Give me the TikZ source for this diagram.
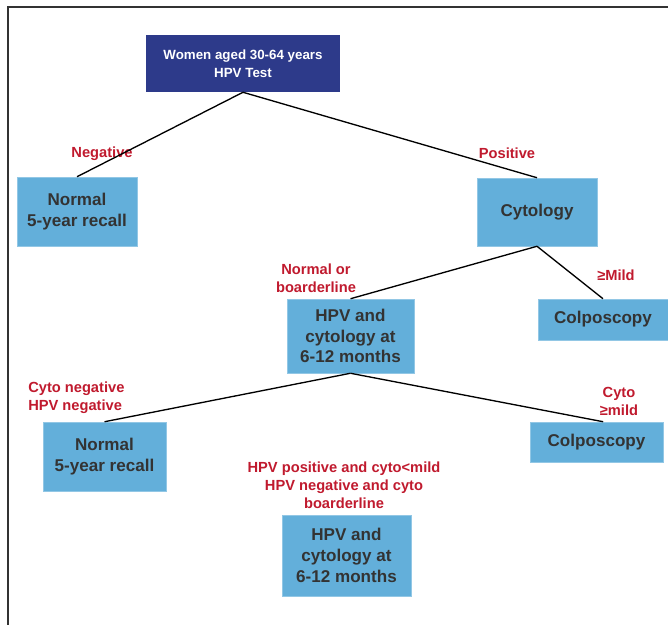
\documentclass[tikz,border=0pt]{standalone}
\usepackage{fontspec}
\setmainfont{Liberation Sans}
\definecolor{topblue}{HTML}{2D3A8A}
\definecolor{boxblue}{HTML}{63AFDA}
\definecolor{labred}{HTML}{C01A2E}
\begin{document}
\begin{tikzpicture}[x=0.75pt,y=-0.75pt,
    topbox/.style={fill=topblue,text=white,inner sep=0pt,align=center,
      font=\fontsize{10}{13.5}\selectfont\bfseries},
    bluebox/.style={fill=boxblue,draw=boxblue!70!white,inner sep=0pt,align=center,
      text=black!80,font=\fontsize{12.8}{15.5}\selectfont\bfseries},
    lab/.style={text=labred,inner sep=0pt,align=center,
      font=\fontsize{11}{13.5}\selectfont\bfseries},
    link/.style={line width=1pt,black}]
      \useasboundingbox (0,0) rectangle (668,625) ;
      \draw[line width=1.1pt,black!80] (668,7) -- (8,7) -- (8,625) ;
      % boxes
      \node[topbox,minimum width=145.5pt,minimum height=42.75pt] (women) at (243,63.5) {Women aged 30-64 years\\HPV Test} ;
      \node[bluebox,minimum width=90pt,minimum height=51.75pt] (recallA) at (77,211.5) {Normal\\5-year recall} ;
      \node[bluebox,minimum width=90pt,minimum height=51pt] (cyto) at (537,212) {Cytology} ;
      \node[bluebox,minimum width=97.5pt,minimum height=30.75pt] (colpoA) at (603,319.5) {Colposcopy} ;
      \node[bluebox,minimum width=95.25pt,minimum height=55.5pt] (hpvA) at (350.5,336) {HPV and\\cytology at\\6-12 months} ;
      \node[bluebox,minimum width=92.25pt,minimum height=51.75pt] (recallB) at (104.5,456.5) {Normal\\5-year recall} ;
      \node[bluebox,minimum width=99.75pt,minimum height=30pt] (colpoB) at (596.5,442) {Colposcopy} ;
      \node[bluebox,minimum width=96.75pt,minimum height=60.75pt] (hpvB) at (346.5,555.5) {HPV and\\cytology at\\6-12 months} ;
      % labels
      \node[lab] (neg) at (102,154) {Negative} ;
      \node[lab] (pos) at (507,153) {Positive} ;
      \node[lab] (normbord) at (316,278) {Normal or\\boarderline} ;
      \node[lab] (mildA) at (616,275) {≥Mild} ;
      \node[lab,anchor=west,align=left] (cytoneg) at (28,398) {Cyto negative\\HPV negative} ;
      \node[lab] (mildB) at (619,401) {Cyto\\≥mild} ;
      \node[lab] (hpvpos) at (344,485) {HPV positive and cyto<mild\\HPV negative and cyto\\boarderline} ;
      % connectors
      \draw[link] (women.south) -- (recallA.north) ;
      \draw[link] (women.south) -- (cyto.north) ;
      \draw[link] (cyto.south) -- (hpvA.north) ;
      \draw[link] (cyto.south) -- (colpoA.north) ;
      \draw[link] (hpvA.south) -- (recallB.north) ;
      \draw[link] (hpvA.south) -- ([xshift=5]colpoB.north) ;
\end{tikzpicture}
\end{document}
